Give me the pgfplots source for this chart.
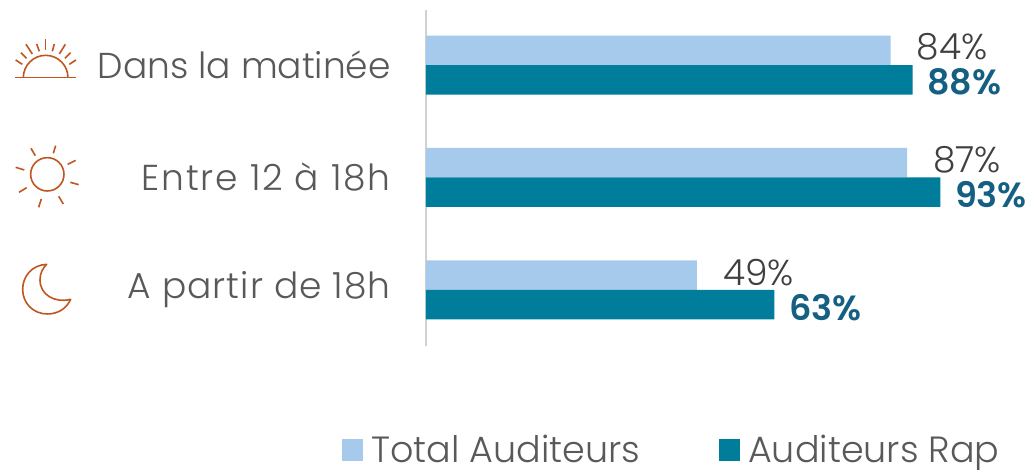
\documentclass[border=0pt]{standalone}
\usepackage{pgfplots}
\pgfplotsset{compat=1.18}
\usepackage{fontspec}
\setmainfont{Poppins}[UprightFont={* Light},BoldFont={* SemiBold}]
\definecolor{lightbar}{HTML}{A6CAEC}
\definecolor{darkbar}{HTML}{007D9B}
\definecolor{txt}{HTML}{595959}
\definecolor{lab}{HTML}{404040}
\definecolor{blab}{HTML}{156082}
\definecolor{icon}{HTML}{C0561E}
\begin{document}
\begin{tikzpicture}
\path[use as bounding box] (-426pt,-123pt) rectangle (607pt,346pt);
\begin{axis}[
  scale only axis, width=607pt, height=336pt,
  at={(0,0)}, anchor=south west,
  clip=false,
  xmin=0, xmax=109.76, y dir=reverse, ymin=-0.489, ymax=2.498,
  xbar, bar width=29.5pt,
  axis x line=none, axis y line=left,
  axis line style={-, draw=black!18, line width=1.4pt},
  ytick={0,1,2}, yticklabels={Dans la matinée,{\addfontfeature{LetterSpace=5.4}Entre 12 à 18h},{\addfontfeature{LetterSpace=3}A partir de 18h}},
  major tick length=0pt,
  yticklabel style={font=\fontsize{36}{36}\selectfont, text=txt, anchor=east, inner sep=0pt, xshift=-35pt},
  legend style={at={(-0.1384,-0.309)}, anchor=west, draw=none, fill=none, inner sep=0pt,
    font=\fontsize{36.5}{36}\selectfont, text=txt, legend columns=2, /tikz/every even column/.append style={column sep=77pt}},
  legend cell align=left,
  legend image code/.code={\fill[#1] (0pt,-11pt) rectangle (21pt,11pt); \path (0pt,0pt) (27pt,0pt);},
]
\addplot+[bar shift=14.75pt, draw=none, fill=lightbar,
  nodes near coords={\pgfplotspointmeta\%},
  point meta=explicit symbolic,
  every node near coord/.append style={anchor=west, xshift=26pt, yshift=3pt, text=lab, inner sep=0pt, font=\fontsize{36}{36}\selectfont}]
  table[x=x,y=y,meta=m] {
x y m
84 0 84
87 1 87
49 2 49
};
\addplot+[bar shift=-14.75pt, draw=none, fill=darkbar,
  nodes near coords={\pgfplotspointmeta\%},
  point meta=explicit symbolic,
  every node near coord/.append style={anchor=west, xshift=14.5pt, yshift=-2.5pt, text=blab, inner sep=0pt, font=\fontsize{35}{35}\selectfont\bfseries}]
  table[x=x,y=y,meta=m] {
x y m
88 0 88
93 1 93
63 2 63
};
\legend{Total Auditeurs,Auditeurs Rap}
\end{axis}
\begin{scope}[shift={(-426pt,326pt)}, x=0.3333pt, y=-0.3333pt, draw=icon, line width=1.6pt]
\draw (46,173)--(228,173);
\draw (70,173) arc[start angle=180, end angle=0, x radius=67, y radius=-67];
\foreach \a/\b/\c/\d in {137/58/137/90,110/72/118/94,163/72/157/94,78/73/97/102,196/73/178/102,63/98/80/115,212/98/195/115,47/120/67/133,228/120/208/133}
  \draw (\a,\b)--(\c,\d);
\draw (142,463) circle[radius=50];
\foreach \a/\b/\c/\d in {93/385/106/407,167/377/160/400,227/421/203/433,236/494/211/487,190/552/176/529,116/562/124/537,57/517/80/503,47/442/73/450}
  \draw (\a,\b)--(\c,\d);
\draw[line join=round] (140,733) .. controls (95,735) and (68,770) .. (68,808) .. controls (68,850) and (100,882) .. (142,882) .. controls (175,882) and (200,865) .. (212,838) .. controls (165,850) and (120,825) .. (120,780) .. controls (120,760) and (128,745) .. (140,733) -- cycle;
\end{scope}
\end{tikzpicture}
\end{document}
